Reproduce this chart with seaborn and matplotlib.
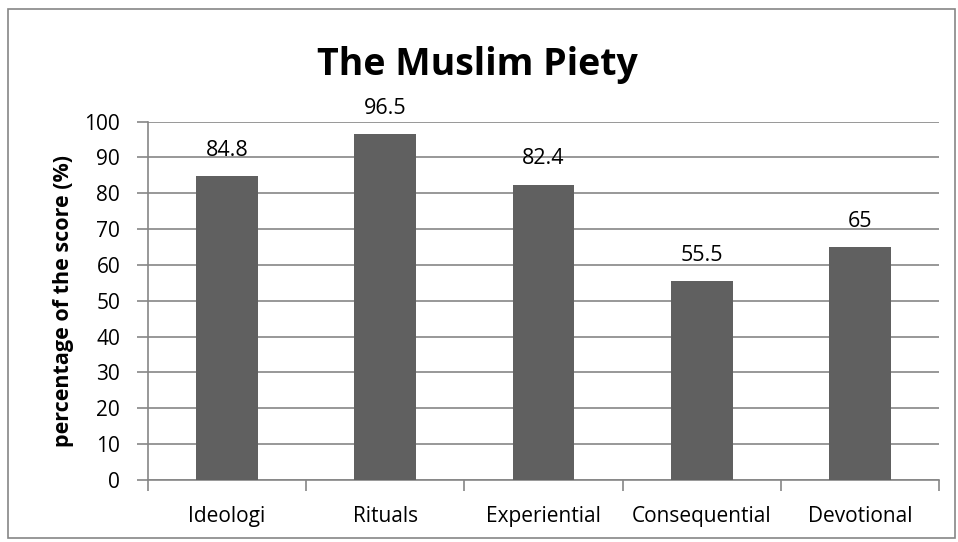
import matplotlib
matplotlib.use("Agg")
import matplotlib.pyplot as plt
import seaborn as sns
import pandas as pd
from matplotlib.patches import Rectangle

categories = ["Ideologi", "Rituals", "Experiential", "Consequential", "Devotional"]
values = [84.8, 96.5, 82.4, 55.5, 65]
value_labels = ["84.8", "96.5", "82.4", "55.5", "65"]
yticks = [0, 10, 20, 30, 40, 50, 60, 70, 80, 90, 100]

sns.set_theme(style="white")
plt.rcParams['font.family'] = ['Open Sans', 'DejaVu Sans']
plt.rcParams['text.color'] = 'black'
plt.rcParams['axes.labelcolor'] = 'black'

df = pd.DataFrame({"cat": categories, "val": values})

fig = plt.figure(figsize=(9.58, 5.42), dpi=100)
ax = fig.add_axes([148/958, 1-480/542, (939-148)/958, (480-121.5)/542])

grid_c = "#868686"
sns.barplot(data=df, x="cat", y="val", color="#606060", saturation=1, width=0.39,
            edgecolor="none", linewidth=0, ax=ax, zorder=3)

ax.set_xlim(-0.5, 4.5)
ax.set_ylim(0, 100)
ax.set_yticks(yticks)
ax.yaxis.grid(True, color=grid_c, linewidth=1.2, zorder=0)
ax.set_axisbelow(True)
for s in ["top", "right"]:
    ax.spines[s].set_visible(False)
for s in ["left", "bottom"]:
    ax.spines[s].set_color(grid_c)
    ax.spines[s].set_linewidth(1.2)

ax.set_xticks([i - 0.5 for i in range(len(categories) + 1)], minor=True)
ax.tick_params(axis="x", which="minor", length=8, width=1.2, color=grid_c, direction="out", bottom=True)
ax.tick_params(axis="x", which="major", length=0, labelsize=15, pad=19, labelcolor="black")
ax.tick_params(axis="y", length=8, width=1.2, color=grid_c, direction="out", left=True,
               labelsize=15, pad=12, labelcolor="black")

ax.set_xlabel("")
ax.set_ylabel("percentage of the score (%)", fontsize=15.5, fontweight="bold")
ax.yaxis.set_label_coords((64-148)/791, 0.5)
ax.yaxis.label.set_va("center")

for i, (v, lab) in enumerate(zip(values, value_labels)):
    ax.annotate(lab, xy=(i, v), xytext=(0, 11), textcoords="offset points",
                ha="center", va="bottom", fontsize=15.5, color="black")

fig.text(477/958, 1-75/542, "The Muslim Piety", ha="center", va="baseline",
         fontsize=27, fontweight="bold", color="black")

fig.patches.append(Rectangle((8/958, 1-538/542), (955-8)/958, (538-9)/542, transform=fig.transFigure,
                             fill=False, edgecolor=grid_c, linewidth=1.2))

fig.savefig("out.png", dpi=100)
